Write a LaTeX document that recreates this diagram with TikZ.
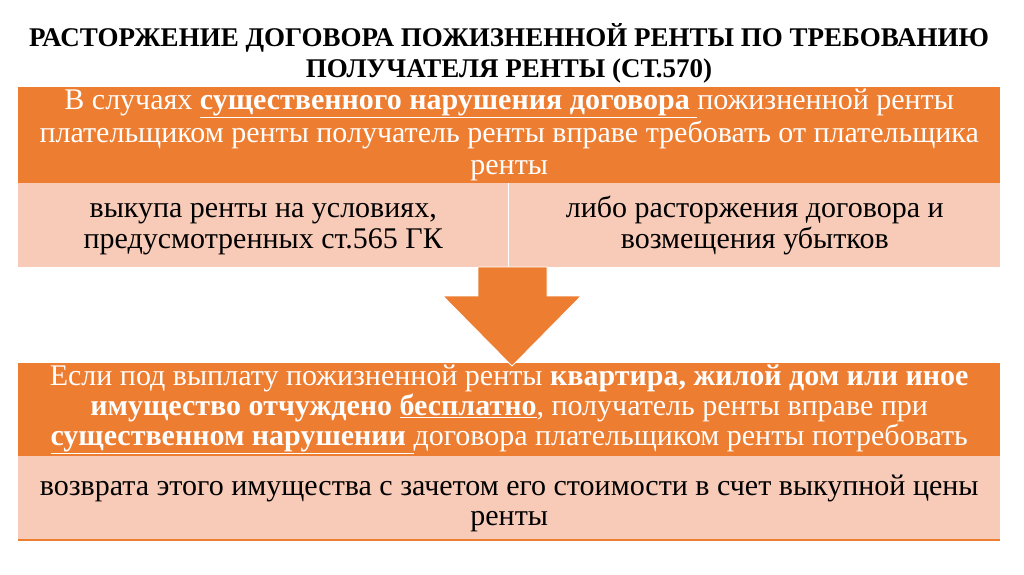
\documentclass[tikz,border=0pt]{standalone}
\usepackage{fontspec}
\setmainfont{Liberation Serif}
\definecolor{rentorange}{HTML}{ED7D31}
\definecolor{rentpeach}{HTML}{F8CBB8}
\newcommand{\ul}[1]{\underline{#1}}
\newcommand{\rentstrut}[1]{\rule{0pt}{#1}}
\tikzset{
  headbox/.style={fill=rentorange, text=white, anchor=north west, inner sep=0pt,
    align=center, font=\fontsize{30}{32.5}\selectfont},
  cellbox/.style={fill=rentpeach, text=black, anchor=north west, inner sep=0pt,
    align=center, font=\fontsize{30}{31.5}\selectfont},
}
\begin{document}
\begin{tikzpicture}[x=1pt,y=-1pt]
  \useasboundingbox[fill=white] (0,0) rectangle (1024,574);
  % title
  \node[font=\bfseries\fontsize{27}{31}\selectfont, align=center] (title) at (509,53)
    {РАСТОРЖЕНИЕ ДОГОВОРА ПОЖИЗНЕННОЙ РЕНТЫ ПО ТРЕБОВАНИЮ\\
     ПОЛУЧАТЕЛЯ РЕНТЫ (СТ.570)};
  % upper block
  \node[headbox, minimum width=982, minimum height=96] (cases) at (18,87)
    {В случаях \textbf{\ul{существенного нарушения договора }}пожизненной ренты\\
     плательщиком ренты получатель ренты вправе требовать от плательщика\\
     ренты};
  \node[cellbox, minimum width=490, minimum height=84] (buyout) at (18,183)
    {\rentstrut{22pt}выкупа ренты на условиях,\\ предусмотренных ст.565 ГК};
  \node[cellbox, minimum width=491, minimum height=84] (damages) at (509,183)
    {\rentstrut{22pt}либо расторжения договора и\\ возмещения убытков};
  % lower block
  \node[headbox, font=\fontsize{30}{30}\selectfont, minimum width=982, minimum height=93]
    (free) at (18,363)
    {Если под выплату пожизненной ренты \textbf{квартира, жилой дом или иное}\\
     \textbf{имущество отчуждено \ul{бесплатно}}, получатель ренты вправе при\\
     \textbf{\ul{существенном нарушении }}договора плательщиком ренты потребовать};
  \node[cellbox, font=\fontsize{30}{30}\selectfont, minimum width=982, minimum height=84]
    (back) at (18,456)
    {\rentstrut{31pt}возврата этого имущества с зачетом его стоимости в счет выкупной цены\\ ренты};
  \draw[rentorange, line width=2] (back.south west) -- (back.south east);
  % arrow
  \fill[rentorange, draw=white, line width=0.8]
    (478,267) -- (547,267) -- (547,296) -- (581,296) -- (512,366)
    -- (443,296) -- (478,296) -- cycle;
\end{tikzpicture}
\end{document}
